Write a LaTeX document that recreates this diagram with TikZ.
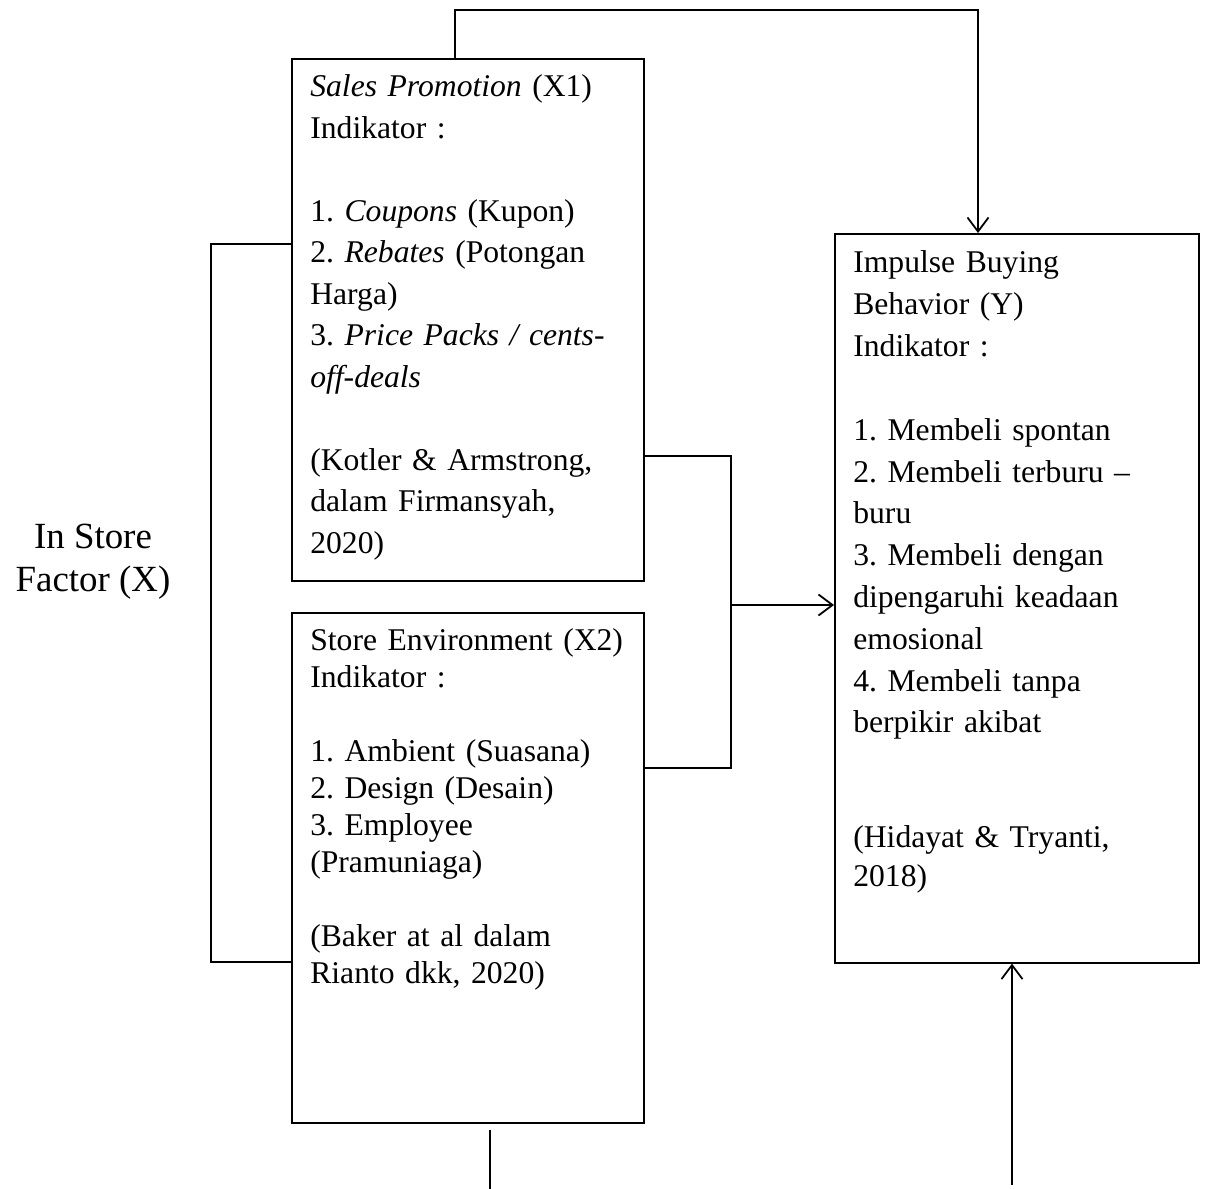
\documentclass[tikz,border=0pt]{standalone}
\usepackage{fontspec}
\setmainfont{Liberation Serif}
\usetikzlibrary{positioning}
\usetikzlibrary{arrows.meta}
\frenchspacing

\begin{document}
\begin{tikzpicture}[x=0.02cm, y=-0.02cm,
    kotak/.style={draw, line width=1pt, inner sep=0pt, anchor=north west},
    isi/.style={anchor=base west, align=left, inner sep=0pt, text width=7cm},
    garis/.style={line width=1pt},
    panah/.style={line width=1pt, -{Straight Barb[length=8pt, width=12pt]}}]
    \useasboundingbox (0,0) rectangle (1205,1189);

    % kotak variabel
    \node[kotak, minimum width=7.04cm, minimum height=10.44cm] (x1) at (291,58) {};
    \node[kotak, minimum width=7.04cm, minimum height=10.2cm] (x2) at (291,612) {};
    \node[kotak, minimum width=7.28cm, minimum height=14.58cm] (y) at (834,233) {};

    % isi kotak
    \node[isi, font=\fontsize{18}{23.6}\selectfont] (x1isi) at (310,97) {\textit{Sales Promotion} (X1)\\
        Indikator :\\[23.6pt]
        1. \textit{Coupons} (Kupon)\\
        2. \textit{Rebates} (Potongan\\
        Harga)\\
        3. \textit{Price Packs / cents-}\\
        \textit{off-deals}\\[23.6pt]
        (Kotler \& Armstrong,\\
        dalam Firmansyah,\\
        2020)};
    \node[isi, font=\fontsize{18}{21}\selectfont] (x2isi) at (310,651) {Store Environment (X2)\\
        Indikator :\\[21pt]
        1. Ambient (Suasana)\\
        2. Design (Desain)\\
        3. Employee\\
        (Pramuniaga)\\[21pt]
        (Baker at al dalam\\
        Rianto dkk, 2020)};
    \node[isi, font=\fontsize{18}{23.8}\selectfont] (yisi) at (853,273) {Impulse Buying\\
        Behavior (Y)\\
        Indikator :\\[23.8pt]
        1. Membeli spontan\\
        2. Membeli terburu --\\
        buru\\
        3. Membeli dengan\\
        dipengaruhi keadaan\\
        emosional\\
        4. Membeli tanpa\\
        berpikir akibat\\[41.5pt]
        (Hidayat \& Tryanti,\\[-1.8pt]
        2018)};
    \node[font=\fontsize{21}{24.5}\selectfont, align=center] (faktor) at (93,562) {In Store\\ Factor (X)};

    % titik bantu
    \coordinate (kiri1) at (211,244);
    \coordinate (kiri2) at (211,962);
    \coordinate (kanan1) at (731,456);
    \coordinate (kanan2) at (731,768);
    \coordinate (kanan) at (731,605);
    \coordinate (atas1) at (455,10);
    \coordinate (atas2) at (978,10);
    \coordinate (bawah1) at (490,1130);
    \coordinate (bawah2) at (490,1189);
    \coordinate (bawah3) at (1012,1185);

    % garis
    \draw[garis] (x1.west |- kiri1) -- (kiri1) -- (kiri2) -- (x2.west |- kiri2);
    \draw[garis] (x1.east |- kanan1) -- (kanan1) -- (kanan2) -- (x2.east |- kanan2);
    \draw[panah] (kanan) -- (y.west |- kanan);
    \draw[panah] (x1.north -| atas1) -- (atas1) -- (atas2) -- (y.north -| atas2);
    \draw[garis] (bawah1) -- (bawah2);
    \draw[panah] (bawah3) -- (y.south -| bawah3);
\end{tikzpicture}
\end{document}
